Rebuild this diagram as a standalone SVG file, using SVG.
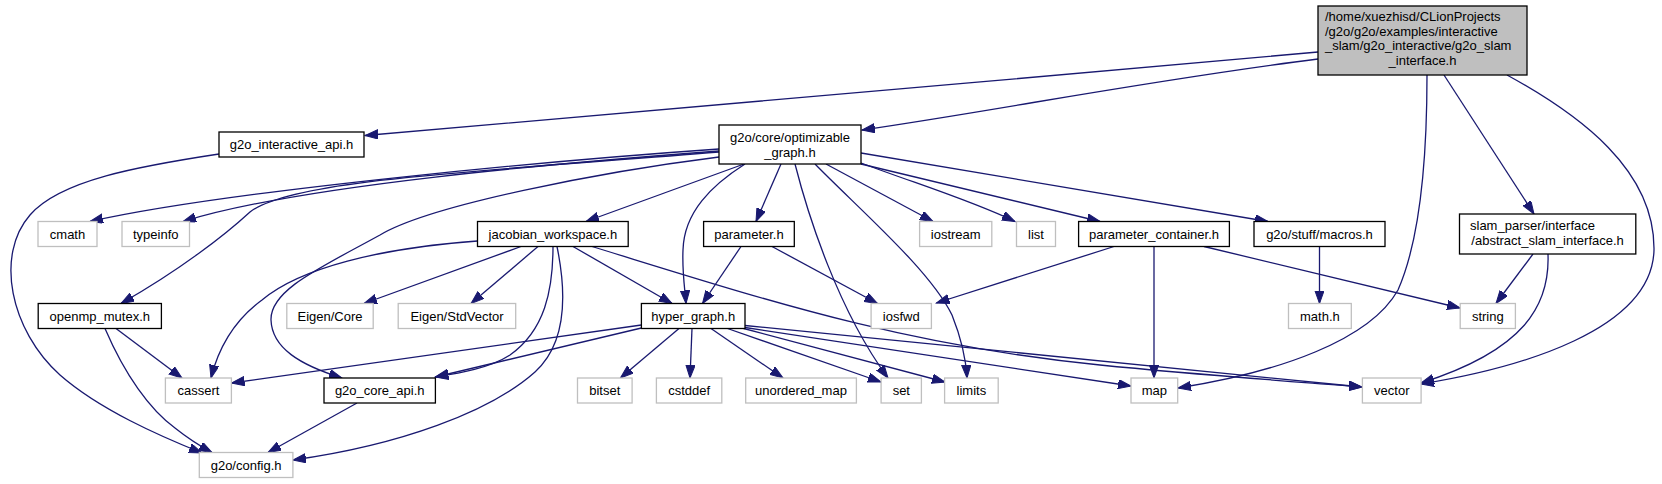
<svg xmlns="http://www.w3.org/2000/svg" width="1662" height="484" viewBox="0 0 1662 484">
<style>
.d{fill:#ffffff;stroke:#000000;stroke-width:1.3}
.u{fill:#ffffff;stroke:#bfbfbf;stroke-width:1.3}
.m{fill:#bfbfbf;stroke:#000000;stroke-width:1.3}
text{font-family:"Liberation Sans",Arial,Helvetica,sans-serif;font-size:13px;fill:#000000}
.c{text-anchor:middle}
#edges path{fill:none;stroke:#191970;stroke-width:1.3;marker-end:url(#arr)}
</style>
<defs>
<marker id="arr" markerWidth="14" markerHeight="10" refX="13" refY="4.65" orient="auto" markerUnits="userSpaceOnUse">
<path d="M0,0 L13,4.65 L0,9.3 Z" fill="#191970" stroke="#191970" stroke-width="1"/>
</marker>
</defs>
<rect x="0" y="0" width="1662" height="484" fill="#ffffff"/>
<g id="edges">
<path d="M1318,52 C1000,80 600,116 365,135.5"/>
<path d="M1318,59 C1150,80 1000,110 862,130"/>
<path d="M1427,75 C1427,160 1420,240 1398,290 C1370,340 1280,372 1178,388"/>
<path d="M1444,75 L1534,214"/>
<path d="M1507,75 C1580,115 1655,170 1654,250 C1652,330 1520,368 1421,384"/>
<path d="M1533,254 L1496,303.5"/>
<path d="M1548,254 C1550,305 1525,350 1421,383"/>
<path d="M219,154 C140,166 60,180 30,215 C-5,255 10,330 60,375 C100,410 160,436 202,453"/>
<path d="M719,149 C560,160 230,190 90,221.5"/>
<path d="M719,151 C560,163 300,185 183,221.5"/>
<path d="M719,152 C470,172 290,180 250,212 C225,235 180,270 121,303.5"/>
<path d="M744,164 L586,221.5"/>
<path d="M719,157 C600,172 430,205 380,235 C320,268 270,290 271,320 C272,348 300,365 342,378"/>
<path d="M745,164 C712,185 684,212 683,250 C682,272 685,290 686,303.5"/>
<path d="M781,164 L756,221.5"/>
<path d="M795,164 C808,215 838,310 888,378"/>
<path d="M815,164 C860,210 930,270 952,315 C962,340 966,360 967,378"/>
<path d="M826,164 L933,221.5"/>
<path d="M861,163 C920,185 970,200 1015,221.5"/>
<path d="M861,164 L1100,221.5"/>
<path d="M861,153 L1268,221.5"/>
<path d="M477.5,241 C380,248 300,268 262,300 C232,322 218,350 211,378"/>
<path d="M521,246.5 L364,303.5"/>
<path d="M538,246.5 L471,303.5"/>
<path d="M553,246.5 C553,290 545,330 510,355 C490,368 460,373 435.4,377"/>
<path d="M557,246.5 C568,300 565,345 535,372 C490,412 400,445 293,460"/>
<path d="M573,246.5 L672,303.5"/>
<path d="M592,246.5 C760,298 900,345 1100,365 C1200,375 1300,382 1362,387"/>
<path d="M741,246.5 L702.5,303.5"/>
<path d="M772,246.5 L877.5,303.5"/>
<path d="M116,328.5 L182,378"/>
<path d="M105,328.5 C125,375 150,410 175,428 C190,440 200,446 212,452.5"/>
<path d="M641.4,325 L231.5,383"/>
<path d="M641.4,328 L435.4,377"/>
<path d="M679,328.5 L620.4,378"/>
<path d="M692,328.5 L690,378"/>
<path d="M711,328.5 L783,378"/>
<path d="M727.5,328.5 L881,382"/>
<path d="M743.6,328.5 L945,382"/>
<path d="M745,327.5 L1131,386"/>
<path d="M745,325.5 L1362,387"/>
<path d="M1114,246.5 L936.4,303"/>
<path d="M1154,246.5 L1154,378"/>
<path d="M1204,246.5 L1460,308"/>
<path d="M1319.5,246.5 L1319.5,303.5"/>
<path d="M357,403 L268,452.5"/>
</g>
<g id="n_main"><rect class="m" x="1318" y="6" width="209" height="69"/>
<text x="1325" y="21">/home/xuezhisd/CLionProjects</text>
<text x="1325" y="35.5">/g2o/g2o/examples/interactive</text>
<text x="1325" y="50">_slam/g2o_interactive/g2o_slam</text>
<text class="c" x="1422.5" y="64.5">_interface.h</text></g>
<g id="n_interactive_api"><rect class="d" x="219" y="132" width="145" height="25"/><text class="c" x="291.5" y="149">g2o_interactive_api.h</text></g>
<g id="n_optimizable_graph"><rect class="d" x="719" y="125" width="142" height="39"/>
<text class="c" x="790" y="142">g2o/core/optimizable</text><text class="c" x="790" y="156.5">_graph.h</text></g>
<g id="n_cmath"><rect class="u" x="38" y="221.5" width="59" height="25"/><text class="c" x="67.5" y="238.5">cmath</text></g>
<g id="n_typeinfo"><rect class="u" x="122" y="221.5" width="67.5" height="25"/><text class="c" x="155.75" y="238.5">typeinfo</text></g>
<g id="n_jacobian"><rect class="d" x="477.5" y="221.5" width="150.7" height="25"/><text class="c" x="552.9" y="238.5">jacobian_workspace.h</text></g>
<g id="n_parameter"><rect class="d" x="703.6" y="221.5" width="90.7" height="25"/><text class="c" x="749" y="238.5">parameter.h</text></g>
<g id="n_iostream"><rect class="u" x="919.6" y="221.5" width="72.2" height="25"/><text class="c" x="955.7" y="238.5">iostream</text></g>
<g id="n_list"><rect class="u" x="1016.5" y="221.5" width="39" height="25"/><text class="c" x="1036" y="238.5">list</text></g>
<g id="n_parameter_container"><rect class="d" x="1078.6" y="221.5" width="150.8" height="25"/><text class="c" x="1154" y="238.5">parameter_container.h</text></g>
<g id="n_macros"><rect class="d" x="1254" y="221.5" width="131" height="25"/><text class="c" x="1319.5" y="238.5">g2o/stuff/macros.h</text></g>
<g id="n_slam_parser"><rect class="d" x="1459.5" y="214" width="176.3" height="40"/>
<text x="1470" y="230">slam_parser/interface</text><text class="c" x="1547.6" y="244.5">/abstract_slam_interface.h</text></g>
<g id="n_openmp_mutex"><rect class="d" x="38.2" y="303.5" width="123.2" height="25"/><text class="c" x="99.8" y="320.5">openmp_mutex.h</text></g>
<g id="n_eigen_core"><rect class="u" x="286.8" y="303.5" width="86.4" height="25"/><text class="c" x="330" y="320.5">Eigen/Core</text></g>
<g id="n_eigen_stdvector"><rect class="u" x="398.2" y="303.5" width="117.5" height="25"/><text class="c" x="457" y="320.5">Eigen/StdVector</text></g>
<g id="n_hyper_graph"><rect class="d" x="641.4" y="303.5" width="103.6" height="25"/><text class="c" x="693.2" y="320.5">hyper_graph.h</text></g>
<g id="n_iosfwd"><rect class="u" x="871.1" y="303.5" width="60.3" height="25"/><text class="c" x="901.3" y="320.5">iosfwd</text></g>
<g id="n_math"><rect class="u" x="1288.5" y="303.5" width="62.8" height="25"/><text class="c" x="1319.9" y="320.5">math.h</text></g>
<g id="n_string"><rect class="u" x="1460.2" y="303.5" width="55.2" height="25"/><text class="c" x="1487.8" y="320.5">string</text></g>
<g id="n_cassert"><rect class="u" x="165.4" y="378" width="66" height="25"/><text class="c" x="198.4" y="395">cassert</text></g>
<g id="n_core_api"><rect class="d" x="324" y="378" width="111.4" height="25"/><text class="c" x="379.7" y="395">g2o_core_api.h</text></g>
<g id="n_bitset"><rect class="u" x="577.5" y="378" width="54.6" height="25"/><text class="c" x="604.8" y="395">bitset</text></g>
<g id="n_cstddef"><rect class="u" x="656.4" y="378" width="65.4" height="25"/><text class="c" x="689.1" y="395">cstddef</text></g>
<g id="n_unordered_map"><rect class="u" x="745.7" y="378" width="110.7" height="25"/><text class="c" x="801" y="395">unordered_map</text></g>
<g id="n_set"><rect class="u" x="881.1" y="378" width="40.3" height="25"/><text class="c" x="901.3" y="395">set</text></g>
<g id="n_limits"><rect class="u" x="944.6" y="378" width="53.6" height="25"/><text class="c" x="971.4" y="395">limits</text></g>
<g id="n_map"><rect class="u" x="1131" y="378" width="46.7" height="25"/><text class="c" x="1154.4" y="395">map</text></g>
<g id="n_vector"><rect class="u" x="1362.4" y="378" width="58.7" height="25"/><text class="c" x="1391.8" y="395">vector</text></g>
<g id="n_config"><rect class="u" x="199.3" y="452.5" width="93.6" height="25"/><text class="c" x="246.1" y="469.5">g2o/config.h</text></g>
</svg>
